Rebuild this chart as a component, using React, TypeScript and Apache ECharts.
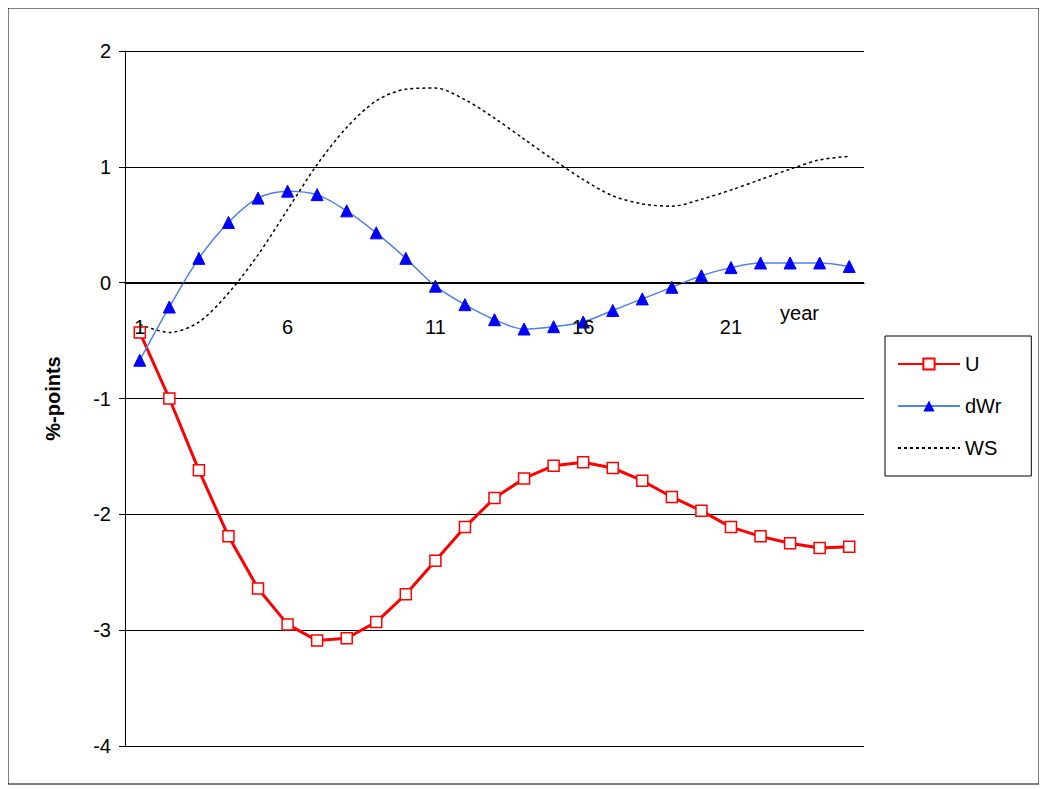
import React, { useEffect, useRef } from "react";
import * as echarts from "echarts";

const categories = Array.from({ length: 25 }, (_, i) => String(i + 1));
const U = [-0.43,-1.0,-1.62,-2.19,-2.64,-2.95,-3.09,-3.07,-2.93,-2.69,-2.4,-2.11,-1.86,-1.69,-1.58,-1.55,-1.6,-1.71,-1.85,-1.97,-2.11,-2.19,-2.25,-2.29,-2.28];
const dWr = [-0.67,-0.21,0.21,0.52,0.73,0.79,0.76,0.62,0.43,0.21,-0.03,-0.19,-0.32,-0.4,-0.38,-0.34,-0.24,-0.14,-0.04,0.06,0.13,0.17,0.17,0.17,0.14];
const WS = [-0.36,-0.43,-0.34,-0.09,0.24,0.63,1.02,1.34,1.57,1.67,1.68,1.58,1.42,1.24,1.06,0.89,0.75,0.68,0.66,0.72,0.8,0.89,0.98,1.06,1.09];

export default function App() {
  const ref = useRef<HTMLDivElement>(null);
  useEffect(() => {
    const c = echarts.init(ref.current!, null, { renderer: "svg" });
    const font = "Arial, 'Liberation Sans', sans-serif";
    c.setOption({
      animation: false,
      textStyle: { fontFamily: font },
      grid: { left: 117, top: 43, width: 739, height: 695 },
      xAxis: {
        type: "category", data: categories, boundaryGap: true, z: 20, zlevel: 1,
        position: "bottom", offset: -463,
        axisLine: { onZero: false, lineStyle: { color: "#000" } },
        axisTick: { show: false },
        axisLabel: { interval: 4, color: "#000", fontSize: 20, margin: 34, fontFamily: font },
        name: "year", nameLocation: "end", nameGap: 0,
        nameTextStyle: { color: "#000", fontSize: 20, align: "right", verticalAlign: "top", padding: [20, 45, 0, 0] },
      },
      yAxis: {
        type: "value", min: -4, max: 2, interval: 1,
        axisLine: { show: true, lineStyle: { color: "#000" } },
        axisTick: { show: true, inside: false, length: 6, lineStyle: { color: "#000" } },
        splitLine: { lineStyle: { color: "#000", width: 1 } },
        axisLabel: { color: "#000", fontSize: 20, margin: 14, fontFamily: font },
        name: "%-points", nameLocation: "middle", nameGap: 62, nameRotate: 90,
        nameTextStyle: { color: "#000", fontSize: 20, fontWeight: "bold" },
      },
      legend: {
        orient: "vertical", left: 877, top: 328, itemWidth: 62, itemHeight: 14, itemGap: 22,
        padding: [18, 30, 18, 12], borderColor: "#000", borderWidth: 1,
        textStyle: { color: "#000", fontSize: 20, fontFamily: font },
        data: ["U", "dWr", { name: "WS", itemStyle: { opacity: 0 } }],
      },
      graphic: [{ type: "rect", shape: { x: 0, y: 0, width: 1031, height: 776 }, style: { fill: "none", stroke: "#000", lineWidth: 1 } }],
      series: [
        { name: "U", type: "line", data: U, symbol: "rect", symbolSize: 11, z: 1,
          lineStyle: { color: "#f00", width: 3 }, itemStyle: { color: "#fff", borderColor: "#f00", borderWidth: 1.5 } },
        { name: "dWr", type: "line", data: dWr, smooth: 0.3, symbol: "triangle", symbolSize: 12, z: 1,
          lineStyle: { color: "#4f81e6", width: 1.5 }, itemStyle: { color: "#00f", borderColor: "#00f" } },
        { name: "WS", type: "line", data: WS, smooth: 0.3, symbol: "none", z: 1,
          lineStyle: { color: "#000", width: 1.5, type: [3, 3] }, itemStyle: { color: "#000" } },
      ],
    });
    return () => c.dispose();
  }, []);
  return <div ref={ref} style={{ width: 1032, height: 777 }} />;
}
